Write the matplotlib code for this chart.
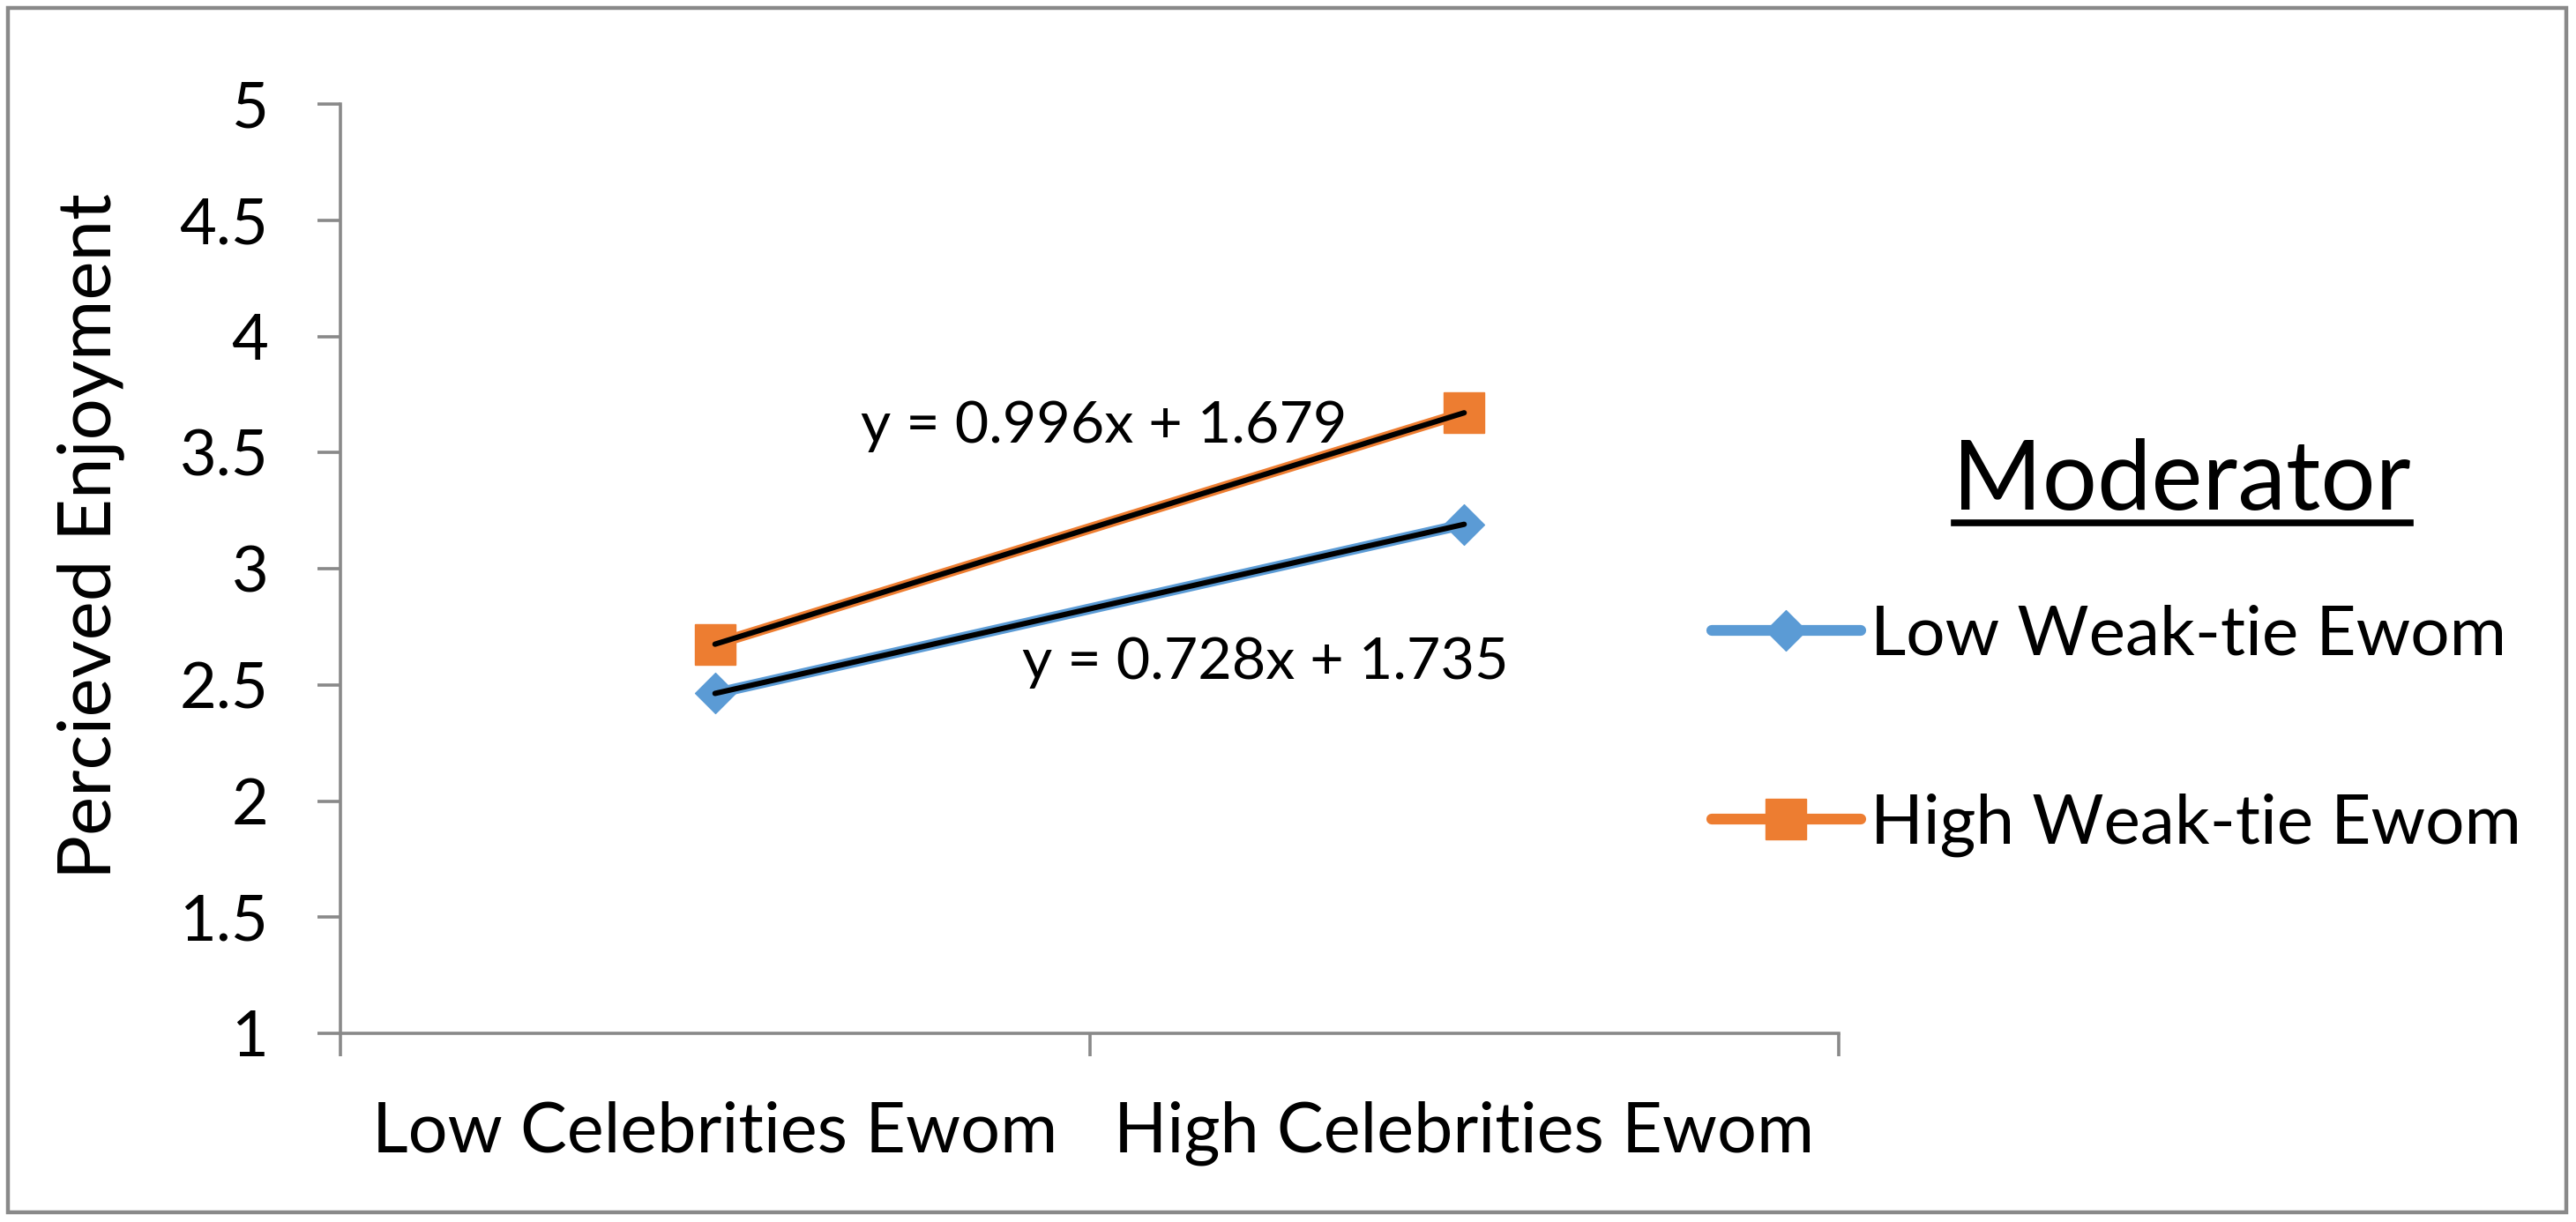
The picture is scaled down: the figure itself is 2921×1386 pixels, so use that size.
import matplotlib
matplotlib.use("Agg")
import matplotlib.pyplot as plt
from matplotlib.lines import Line2D
from matplotlib.patches import Rectangle
from matplotlib.path import Path
import numpy as np

# ---- data ----
categories = ["Low Celebrities Ewom", "High Celebrities Ewom"]
series_names = ["Low Weak-tie Ewom", "High Weak-tie Ewom"]
low_weak_tie = [2.463, 3.191]
high_weak_tie = [2.675, 3.671]
trend_slopes = [0.728, 0.996]
trend_intercepts = [1.735, 1.679]
trend_labels = ["y = 0.728x + 1.735", "y = 0.996x + 1.679"]
y_ticks = [1, 1.5, 2, 2.5, 3, 3.5, 4, 4.5, 5]
y_label = "Percieved Enjoyment"
legend_title = "Moderator"

BLUE = "#5B9BD5"
ORANGE = "#ED7D31"
GRAY = "#898989"
FONT = "Lato"

plt.rcParams['font.family'] = [FONT, 'DejaVu Sans']

W, H = 2921, 1386
fig = plt.figure(figsize=(W / 100, H / 100), dpi=100)
fig.patch.set_facecolor("white")

# outer frame
fig.add_artist(Rectangle((9 / W, 11 / H), (2910 - 9) / W, (1377 - 11) / H,
                         transform=fig.transFigure, fill=False, edgecolor=GRAY, lw=3.2))

ax = fig.add_axes([386 / W, 1 - 1172 / H, (2085 - 386) / W, (1172 - 118) / H])
x = np.arange(len(categories))

diamond = Path([(0, -1), (1, 0), (0, 1), (-1, 0), (0, -1)],
               [Path.MOVETO, Path.LINETO, Path.LINETO, Path.LINETO, Path.CLOSEPOLY])

l1, = ax.plot(x, low_weak_tie, color=BLUE, lw=8.8, marker=diamond, ms=33,
              mec=BLUE, mfc=BLUE, solid_capstyle="round", label=series_names[0], zorder=3)
l2, = ax.plot(x, high_weak_tie, color=ORANGE, lw=8.8, marker="s", ms=33,
              mec=ORANGE, mfc=ORANGE, solid_capstyle="round", label=series_names[1], zorder=3)

# linear trendlines (x = 1, 2 in Excel's category numbering)
for s, b in zip(trend_slopes, trend_intercepts):
    xx = x + 1
    ax.plot(x, s * xx + b, color="black", lw=4.4, solid_capstyle="round", zorder=4)

ax.text(0.735, 2.526, trend_labels[0], fontsize=47.8, ha="center", va="baseline", zorder=5)
ax.text(0.519, 3.543, trend_labels[1], fontsize=47.8, ha="center", va="baseline", zorder=5)

ax.set_xlim(-0.5, 1.5)
ax.set_ylim(1, 5)
for sp in ["top", "right"]:
    ax.spines[sp].set_visible(False)
for sp in ["left", "bottom"]:
    ax.spines[sp].set_color(GRAY)
    ax.spines[sp].set_linewidth(2.6)

ax.set_yticks(y_ticks)
ax.set_yticklabels([f"{v:g}" for v in y_ticks])
ax.tick_params(axis="y", length=18.7, width=2.6, color=GRAY, pad=40, labelsize=52)

ax.set_xticks([-0.5, 0.5, 1.5])
ax.set_xticklabels([])
ax.set_xticks(x, minor=True)
ax.set_xticklabels(categories, minor=True)
ax.tick_params(axis="x", which="major", length=18.7, width=2.6, color=GRAY)
ax.tick_params(axis="x", which="minor", length=0, pad=55, labelsize=57)

fig.text(0.035, 1 - 608 / H, y_label, rotation=90, ha="center", va="center", fontsize=60)

# legend
leg = fig.legend(handles=[l1, l2], labels=series_names, loc="center left",
                 bbox_to_anchor=(1941 / W, 1 - 829 / H), frameon=False, fontsize=56.5,
                 handlelength=2.15, handletextpad=0.14, borderpad=0, borderaxespad=0,
                 labelspacing=1.82)

t = fig.text(2474 / W, 1 - 578 / H, legend_title, ha="center", va="baseline", fontsize=79)
fig.add_artist(Line2D([2216 / W, 2733 / W], [1 - 593 / H, 1 - 593 / H],
                      transform=fig.transFigure, color="black", lw=5.5))

fig.savefig("out.png", dpi=100, facecolor="white")
